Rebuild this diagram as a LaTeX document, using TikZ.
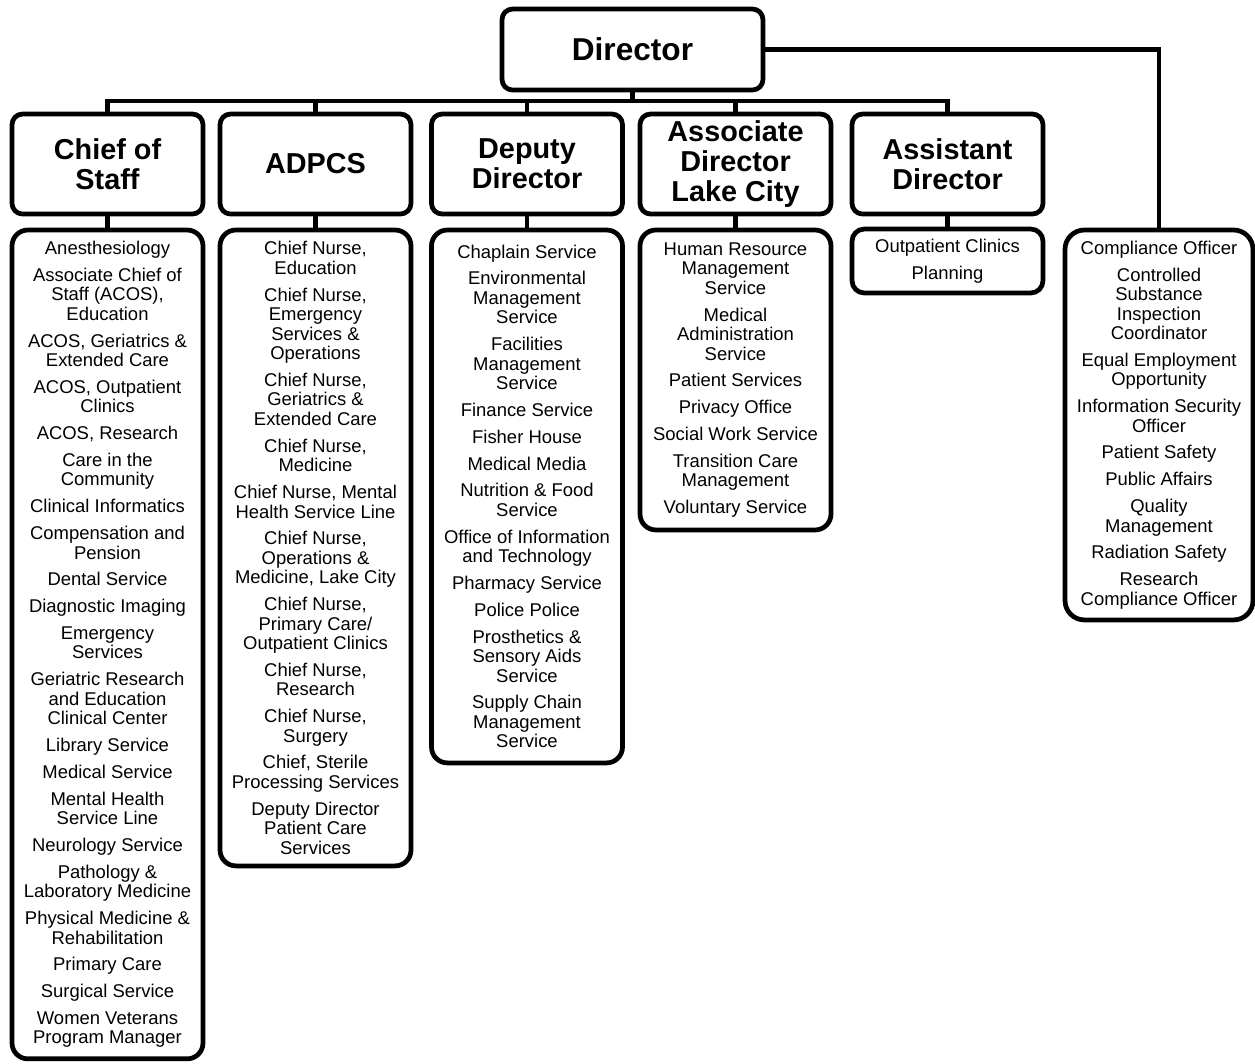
\documentclass[tikz,border=0pt]{standalone}
\usepackage{fontspec}
\setmainfont{Liberation Sans}
\begin{document}
\begin{tikzpicture}[x=0.02cm, y=-0.02cm, line width=2.7pt,
		headbox/.style={draw, rounded corners=6pt, outer sep=0pt, align=center,
			minimum width=3.82cm, minimum height=2cm, font=\bfseries\fontsize{16.4}{17.3}\selectfont},
		listbox/.style={draw, rounded corners=9pt, outer sep=0pt, align=center, anchor=north,
			minimum width=3.82cm, font=\fontsize{10.5}{11.1}\selectfont}]
		\useasboundingbox (0,0) rectangle (1255,1063);
		
		% --- TOP: DIRECTOR ---
		\node[headbox, minimum width=5.22cm, minimum height=1.62cm,
			font=\bfseries\fontsize{18}{20}\selectfont] (dir) at (632.5,49.5) {Director};
		
		% --- SECOND ROW: HEADS (Centers x=107.5 .. 947.5) ---
		\node[headbox] (cos) at (107.5,164) {Chief of\\Staff};
		\node[headbox] (adpcs) at (315.5,164) {ADPCS};
		\node[headbox] (dep) at (527,164) {Deputy\\Director};
		\node[headbox] (assoc) at (735.5,164) {Associate\\Director\\Lake City};
		\node[headbox] (asst) at (947.5,164) {Assistant\\Director};
		
		% --- THIRD ROW: SERVICE LISTS (Top at y=230) ---
		\node[listbox, minimum height=16.58cm] (cos-items) at (107.5,230) {%
			Anesthesiology\\[4.15pt]
			Associate Chief of\\Staff (ACOS),\\Education\\[4.15pt]
			ACOS, Geriatrics \&\\Extended Care\\[4.15pt]
			ACOS, Outpatient\\Clinics\\[4.15pt]
			ACOS, Research\\[4.15pt]
			Care in the\\Community\\[4.15pt]
			Clinical Informatics\\[4.15pt]
			Compensation and\\Pension\\[4.15pt]
			Dental Service\\[4.15pt]
			Diagnostic Imaging\\[4.15pt]
			Emergency\\Services\\[4.15pt]
			Geriatric Research\\and Education\\Clinical Center\\[4.15pt]
			Library Service\\[4.15pt]
			Medical Service\\[4.15pt]
			Mental Health\\Service Line\\[4.15pt]
			Neurology Service\\[4.15pt]
			Pathology \&\\Laboratory Medicine\\[4.15pt]
			Physical Medicine \&\\Rehabilitation\\[4.15pt]
			Primary Care\\[4.15pt]
			Surgical Service\\[4.15pt]
			Women Veterans\\Program Manager};
		
		\node[listbox, minimum height=12.72cm] (adpcs-items) at (315.5,230) {%
			Chief Nurse,\\Education\\[4.15pt]
			Chief Nurse,\\Emergency\\Services \&\\Operations\\[4.15pt]
			Chief Nurse,\\Geriatrics \&\\Extended Care\\[4.15pt]
			Chief Nurse,\\Medicine\\[4.15pt]
			Chief Nurse, Mental\\Health Service Line\\[4.15pt]
			Chief Nurse,\\Operations \&\\Medicine, Lake City\\[4.15pt]
			Chief Nurse,\\Primary Care/\\Outpatient Clinics\\[4.15pt]
			Chief Nurse,\\Research\\[4.15pt]
			Chief Nurse,\\Surgery\\[4.15pt]
			Chief, Sterile\\Processing Services\\[4.15pt]
			Deputy Director\\Patient Care\\Services};
		
		\node[listbox, minimum height=10.66cm] (dep-items) at (527,230) {%
			Chaplain Service\\[4.15pt]
			Environmental\\Management\\Service\\[4.15pt]
			Facilities\\Management\\Service\\[4.15pt]
			Finance Service\\[4.15pt]
			Fisher House\\[4.15pt]
			Medical Media\\[4.15pt]
			Nutrition \& Food\\Service\\[4.15pt]
			Office of Information\\and Technology\\[4.15pt]
			Pharmacy Service\\[4.15pt]
			Police Police\\[4.15pt]
			Prosthetics \&\\Sensory Aids\\Service\\[4.15pt]
			Supply Chain\\Management\\Service};
		
		\node[listbox, minimum height=6cm] (assoc-items) at (735.5,230) {%
			Human Resource\\Management\\Service\\[4.15pt]
			Medical\\Administration\\Service\\[4.15pt]
			Patient Services\\[4.15pt]
			Privacy Office\\[4.15pt]
			Social Work Service\\[4.15pt]
			Transition Care\\Management\\[4.15pt]
			Voluntary Service};
		
		\node[listbox, rounded corners=7pt, minimum height=1.28cm] (asst-items) at (947.5,229) {%
			Outpatient Clinics\\[4.15pt]
			Planning};
		
		% Staff offices reporting straight to the Director
		\node[listbox, rounded corners=11pt, minimum width=3.76cm, minimum height=7.8cm] (comp) at (1159,230) {%
			Compliance Officer\\[4.15pt]
			Controlled\\Substance\\Inspection\\Coordinator\\[4.15pt]
			Equal Employment\\Opportunity\\[4.15pt]
			Information Security\\Officer\\[4.15pt]
			Patient Safety\\[4.15pt]
			Public Affairs\\[4.15pt]
			Quality\\Management\\[4.15pt]
			Radiation Safety\\[4.15pt]
			Research\\Compliance Officer};
		
		% --- CONNECTORS ---
		\coordinate (bus) at (632.5,101);
		\draw (dir.south) -- (dir.south |- bus);
		\draw (cos.north) -- (cos.north |- bus) -- (asst.north |- bus) -- (asst.north);
		\foreach \n in {adpcs,dep,assoc}
			\draw (\n.north) -- (\n.north |- bus);
		\foreach \n in {cos,adpcs,dep,assoc,asst}
			\draw (\n.south) -- (\n-items.north);
		\draw (dir.east) -| (comp.north);
		
	\end{tikzpicture}
\end{document}
